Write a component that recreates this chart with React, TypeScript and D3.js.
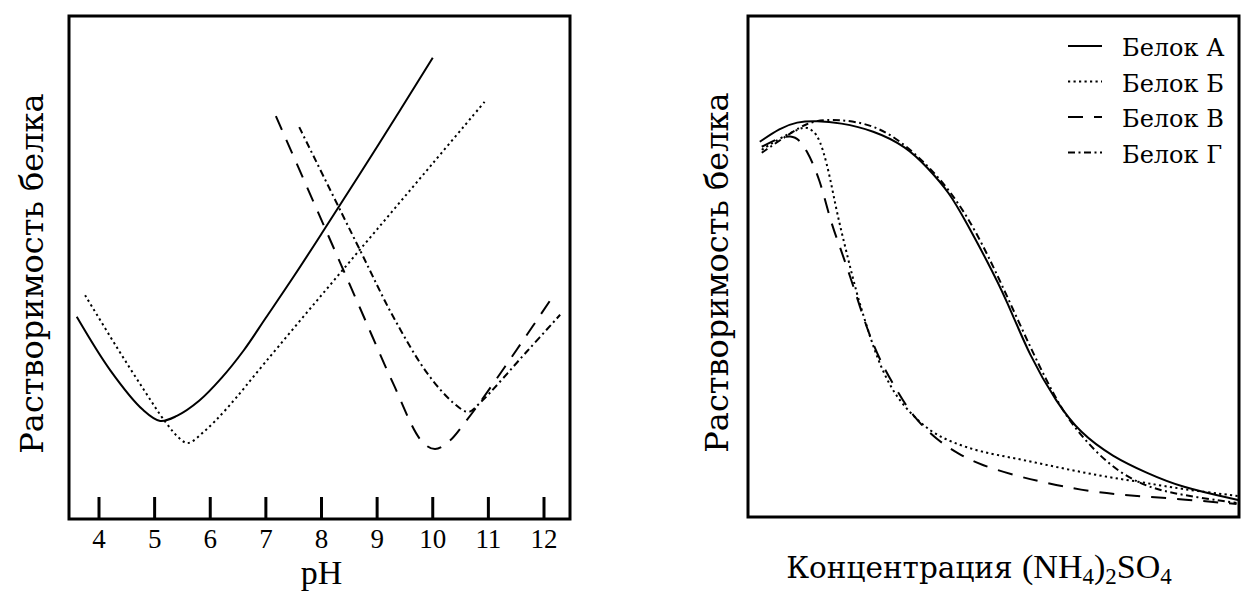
import * as d3 from "d3";

// ---- left panel: solubility vs pH ----
const phTicks = [4, 5, 6, 7, 8, 9, 10, 11, 12];

const proteinA_pH = [
  { x: 3.6, y: 40.2 }, { x: 4.2, y: 29.6 }, { x: 4.79, y: 21.7 }, { x: 5.1, y: 19.5 },
  { x: 5.4, y: 20.5 }, { x: 5.8, y: 23.5 }, { x: 6.2, y: 28.0 }, { x: 6.6, y: 33.5 },
  { x: 7.0, y: 40.0 }, { x: 7.5, y: 48.2 }, { x: 8.0, y: 56.7 }, { x: 9.0, y: 74.0 },
  { x: 10.0, y: 91.7 },
];
const proteinB_pH = [
  { x: 3.75, y: 44.5 }, { x: 4.3, y: 34.5 }, { x: 4.8, y: 25.8 }, { x: 5.2, y: 19.2 },
  { x: 5.45, y: 16.0 }, { x: 5.6, y: 15.1 }, { x: 5.9, y: 17.5 }, { x: 6.3, y: 22.0 },
  { x: 7.0, y: 31.3 }, { x: 8.0, y: 44.5 }, { x: 9.0, y: 57.6 }, { x: 10.0, y: 70.7 },
  { x: 10.96, y: 83.3 },
];
const proteinV_pH = [
  { x: 7.18, y: 80.1 }, { x: 8.1, y: 56.9 }, { x: 8.69, y: 42.0 }, { x: 9.29, y: 26.9 },
  { x: 9.8, y: 15.5 }, { x: 10.04, y: 13.9 }, { x: 10.3, y: 15.5 }, { x: 10.6, y: 19.5 },
  { x: 10.85, y: 23.2 }, { x: 11.5, y: 33.5 }, { x: 12.2, y: 44.9 },
];
const proteinG_pH = [
  { x: 7.6, y: 77.9 }, { x: 8.69, y: 53.5 }, { x: 9.29, y: 40.2 }, { x: 9.9, y: 29.0 },
  { x: 10.37, y: 23.1 }, { x: 10.64, y: 21.3 }, { x: 10.85, y: 23.1 }, { x: 11.7, y: 33.4 },
  { x: 12.29, y: 40.6 },
];

// ---- right panel: solubility vs (NH4)2SO4 concentration ----
const proteinA_salt = [
  { x: 2.4, y: 74.9 }, { x: 6.5, y: 77.6 }, { x: 9.9, y: 78.9 }, { x: 14.0, y: 79.1 },
  { x: 18.7, y: 78.7 }, { x: 25.5, y: 77.2 }, { x: 32.3, y: 73.9 }, { x: 36.4, y: 69.9 },
  { x: 41.1, y: 64.7 }, { x: 44.5, y: 58.7 }, { x: 48.6, y: 51.3 }, { x: 52.7, y: 43.3 },
  { x: 57.4, y: 32.0 }, { x: 62.9, y: 22.8 }, { x: 67.6, y: 16.8 }, { x: 74.3, y: 12.0 },
  { x: 81.2, y: 8.8 }, { x: 88.0, y: 6.0 }, { x: 99.8, y: 3.4 },
];
const proteinB_salt = [
  { x: 2.8, y: 73.3 }, { x: 6.5, y: 75.6 }, { x: 10.6, y: 77.6 }, { x: 12.0, y: 77.9 },
  { x: 14.0, y: 76.6 }, { x: 15.3, y: 73.3 }, { x: 16.7, y: 67.9 }, { x: 18.1, y: 60.7 },
  { x: 20.1, y: 52.7 }, { x: 22.1, y: 44.7 }, { x: 24.2, y: 38.0 }, { x: 26.2, y: 32.0 },
  { x: 28.9, y: 26.0 }, { x: 32.3, y: 21.4 }, { x: 37.1, y: 17.0 }, { x: 41.8, y: 14.8 },
  { x: 47.3, y: 13.0 }, { x: 54.0, y: 11.8 }, { x: 60.8, y: 10.4 }, { x: 67.6, y: 9.0 },
  { x: 74.3, y: 7.8 }, { x: 81.2, y: 6.8 }, { x: 88.0, y: 5.6 }, { x: 99.8, y: 4.2 },
];
const proteinV_salt = [
  { x: 2.8, y: 73.9 }, { x: 9.2, y: 77.1 }, { x: 12.0, y: 73.3 }, { x: 14.7, y: 67.3 },
  { x: 16.7, y: 59.3 }, { x: 18.7, y: 54.0 }, { x: 20.8, y: 48.0 }, { x: 22.8, y: 42.0 },
  { x: 24.8, y: 36.0 }, { x: 27.5, y: 30.0 }, { x: 30.3, y: 25.3 }, { x: 33.6, y: 20.0 },
  { x: 38.4, y: 15.4 }, { x: 43.2, y: 12.4 }, { x: 47.3, y: 10.4 }, { x: 55.4, y: 8.0 },
  { x: 60.8, y: 6.8 }, { x: 67.6, y: 5.4 }, { x: 75.8, y: 4.4 }, { x: 85.3, y: 3.8 },
  { x: 99.5, y: 2.6 },
];
const proteinG_salt = [
  { x: 2.8, y: 72.7 }, { x: 8.6, y: 76.6 }, { x: 12.0, y: 78.6 }, { x: 15.3, y: 79.4 },
  { x: 22.1, y: 79.1 }, { x: 28.9, y: 76.9 }, { x: 37.1, y: 69.9 }, { x: 42.5, y: 63.3 },
  { x: 46.6, y: 56.7 }, { x: 51.3, y: 47.3 }, { x: 58.0, y: 32.7 }, { x: 63.5, y: 22.0 },
  { x: 66.9, y: 17.4 }, { x: 71.0, y: 12.8 }, { x: 75.8, y: 8.8 }, { x: 81.2, y: 6.0 },
  { x: 88.0, y: 4.4 }, { x: 99.5, y: 2.8 },
];

const legendLabels = ["Белок А", "Белок Б", "Белок В", "Белок Г"];
const dashes = ["none", "2.2,3.3", "15,11", "7,3.5,2,3.5"];

// Liberation Serif here has no Cyrillic, so Russian text goes to DejaVu Serif
const font = "Liberation Serif, Times New Roman, serif";
const cyrFont = "DejaVu Serif, Liberation Serif, serif";

export default function App() {
  const W = 1242;
  const H = 594;

  // left frame
  const L = { left: 69, right: 570, top: 16, bottom: 519 };
  const xL = d3.scaleLinear().domain([4, 12]).range([99, 544]);
  const yL = d3.scaleLinear().domain([0, 100]).range([L.bottom, L.top]);

  // right frame
  const R = { left: 748, right: 1239, top: 16, bottom: 517 };
  const xR = d3.scaleLinear().domain([0, 100]).range([R.left, R.right]);
  const yR = d3.scaleLinear().domain([0, 100]).range([R.bottom, R.top]);

  const lineL = d3.line<{ x: number; y: number }>()
    .x(d => xL(d.x)).y(d => yL(d.y)).curve(d3.curveCatmullRom.alpha(0.5));
  const lineR = d3.line<{ x: number; y: number }>()
    .x(d => xR(d.x)).y(d => yR(d.y)).curve(d3.curveBasis);

  const leftSeries = [proteinA_pH, proteinB_pH, proteinV_pH, proteinG_pH];
  const rightSeries = [proteinA_salt, proteinB_salt, proteinV_salt, proteinG_salt];

  return (
    <svg width={W} height={H} viewBox={`0 0 ${W} ${H}`}
      style={{ position: "absolute", left: 0, top: 0, background: "#fff", fontFamily: font }}>
      {/* left panel */}
      <rect x={L.left} y={L.top} width={L.right - L.left} height={L.bottom - L.top}
        fill="none" stroke="#000" strokeWidth={3} />
      {phTicks.map(t => (
        <g key={t}>
          <line x1={xL(t)} x2={xL(t)} y1={L.bottom} y2={L.bottom - 22} stroke="#000" strokeWidth={3} />
          <text x={xL(t)} y={548} textAnchor="middle" fontSize={27}>{t}</text>
        </g>
      ))}
      <text x={xL(8)} y={584} textAnchor="middle" fontSize={34}>pH</text>
      <text transform={`translate(43,${(L.top + L.bottom) / 2 + 6}) rotate(-90)`}
        textAnchor="middle" fontSize={32} style={{ fontFamily: cyrFont }}>Растворимость белка</text>
      {leftSeries.map((s, i) => (
        <path key={i} d={lineL(s) ?? ""} fill="none" stroke="#000" strokeWidth={2}
          strokeDasharray={dashes[i]} />
      ))}

      {/* right panel */}
      <rect x={R.left} y={R.top} width={R.right - R.left} height={R.bottom - R.top}
        fill="none" stroke="#000" strokeWidth={3} />
      <text transform={`translate(728,${(R.top + R.bottom) / 2 + 6}) rotate(-90)`}
        textAnchor="middle" fontSize={32} style={{ fontFamily: cyrFont }}>Растворимость белка</text>
      <text x={979} y={578} textAnchor="middle" fontSize={34}>
        <tspan style={{ fontFamily: cyrFont }} fontSize={29.5}>Концентрация </tspan>(NH<tspan fontSize={23} dy={6}>4</tspan>
        <tspan dy={-6}>)</tspan><tspan fontSize={23} dy={6}>2</tspan>
        <tspan dy={-6}>SO</tspan><tspan fontSize={23} dy={6}>4</tspan>
      </text>
      {rightSeries.map((s, i) => (
        <path key={i} d={lineR(s) ?? ""} fill="none" stroke="#000" strokeWidth={2}
          strokeDasharray={dashes[i]} />
      ))}
      {legendLabels.map((lab, i) => (
        <g key={lab} transform={`translate(0,${46 + i * 35.5})`}>
          <line x1={1068} x2={1102} y1={0} y2={0} stroke="#000" strokeWidth={2}
            strokeDasharray={dashes[i]} />
          <text x={1122} y={10} fontSize={24} style={{ fontFamily: cyrFont }}>{lab}</text>
        </g>
      ))}
    </svg>
  );
}
